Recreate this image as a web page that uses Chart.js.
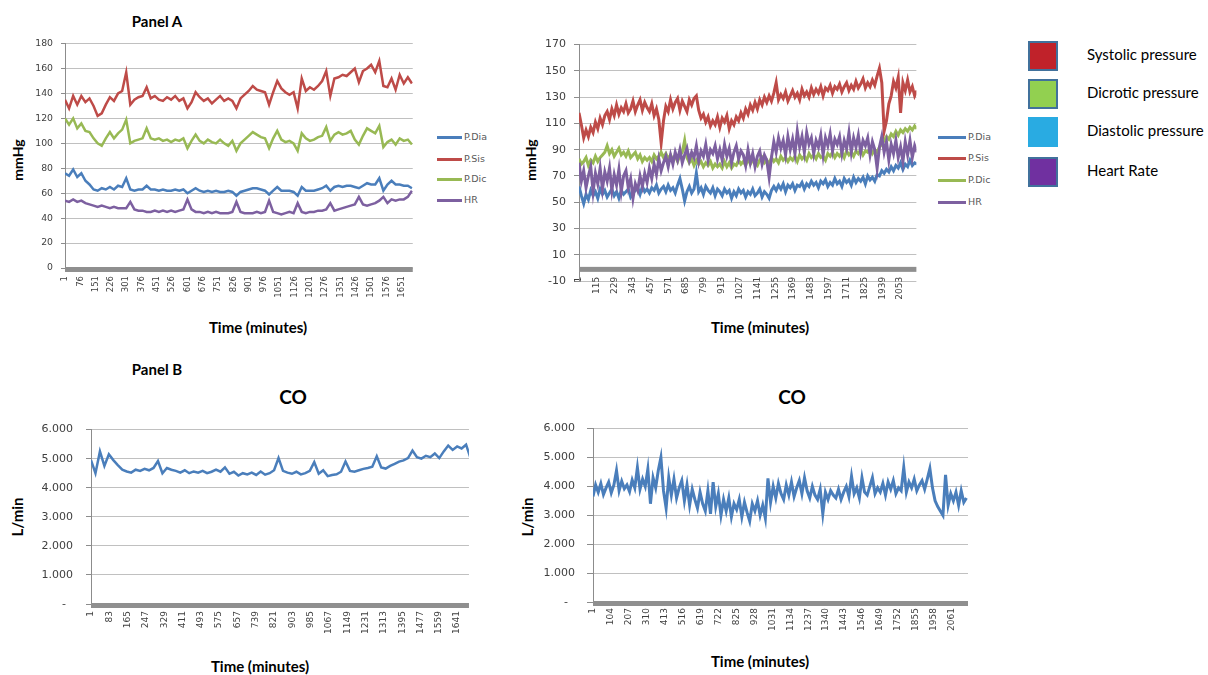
<!DOCTYPE html>
<html>
<head>
<meta charset="utf-8">
<script src="https://cdn.jsdelivr.net/npm/chart.js@4.4.0/dist/chart.umd.min.js"></script>
<style>
  html, body { margin: 0; padding: 0; background: #fff; }
  body { width: 1208px; height: 675px; position: relative; overflow: hidden; font-family: Lato, "Open Sans", sans-serif; }
  canvas { position: absolute; }
  .txt { position: absolute; white-space: nowrap; transform: translate(-50%, -50%); color: #000; font-weight: 700; }
  .rot { transform: translate(-50%, -50%) rotate(-90deg); }
  .lg { position: absolute; font: 9.5px "DejaVu Sans", sans-serif; color: #595959; white-space: nowrap; line-height: 12px; transform: translateY(-50%); }
  .lg i { display: inline-block; height: 3px; vertical-align: middle; margin-right: 2px; }
  .key { position: absolute; left: 1028px; width: 26px; height: 26px; border: 2px solid #41719C; }
  .keytxt { position: absolute; left: 1087px; font: 15px Lato, sans-serif; color: #000; white-space: nowrap; transform: translateY(-50%); }
</style>
</head>
<body>
<div class="txt" style="left:157px;top:21px;font-size:15px">Panel A</div>
<div class="txt" style="left:157px;top:369px;font-size:15px">Panel B</div>
<div class="txt" style="left:293px;top:396px;font-size:19px">CO</div>
<div class="txt" style="left:792px;top:396px;font-size:19px">CO</div>
<div class="txt rot" style="left:17px;top:160px;font-size:14px">mmHg</div>
<div class="txt rot" style="left:530px;top:160px;font-size:14px">mmHg</div>
<div class="txt rot" style="left:17px;top:517px;font-size:15px">L/min</div>
<div class="txt rot" style="left:527px;top:517px;font-size:15px">L/min</div>
<div class="txt" style="left:258px;top:327px;font-size:15px">Time (minutes)</div>
<div class="txt" style="left:760px;top:327px;font-size:15px">Time (minutes)</div>
<div class="txt" style="left:260px;top:666px;font-size:15px">Time (minutes)</div>
<div class="txt" style="left:760px;top:661px;font-size:15px">Time (minutes)</div>

<canvas id="chartTL" width="420" height="280" style="left:0;top:30px"></canvas>
<canvas id="chartTR" width="400" height="280" style="left:520px;top:30px"></canvas>
<canvas id="chartBL" width="455" height="230" style="left:20px;top:410px"></canvas>
<canvas id="chartBR" width="450" height="230" style="left:520px;top:410px"></canvas>

<script>
// series
const seriesNames = ['P.Dia', 'P.Sis', 'P.Dic', 'HR'];
const seriesColors = ['#4A7EBB', '#BE4B48', '#98B954', '#7D60A0'];
const coColor = '#4A7EBB';

// big key on the right
const keyNames = ['Systolic pressure', 'Dicrotic pressure', 'Diastolic pressure', 'Heart Rate'];
const keyColors = ['#C0222A', '#92D050', '#29ABE2', '#7030A0'];

// minutes between two readings
const stepTL = 20, stepTR = 15, stepBL = 20, stepBR = 15;

// tick labels
const xTicksTL = [1, 76, 151, 226, 301, 376, 451, 526, 601, 676, 751, 826, 901, 976, 1051, 1126, 1201, 1276, 1351, 1426, 1501, 1576, 1651];
const xTicksTR = [1, 115, 229, 343, 457, 571, 685, 799, 913, 1027, 1141, 1255, 1369, 1483, 1597, 1711, 1825, 1939, 2053];
const xTicksBL = [1, 83, 165, 247, 329, 411, 493, 575, 657, 739, 821, 903, 985, 1067, 1149, 1231, 1313, 1395, 1477, 1559, 1641];
const xTicksBR = [1, 104, 207, 310, 413, 516, 619, 722, 825, 928, 1031, 1134, 1237, 1340, 1443, 1546, 1649, 1752, 1855, 1958, 2061];
const yTicksTL = [0, 20, 40, 60, 80, 100, 120, 140, 160, 180];
const yTicksTR = [-10, 10, 30, 50, 70, 90, 110, 130, 150, 170];
const yTicksCO = [0, 1, 2, 3, 4, 5, 6];

// Panel A, left chart (mmHg)
const tlDia = [76,74,79,73,76,70,67,63,62,64, 63,65,63,66,65,72,63,62,63,63, 66,63,63,62,63,62,62,63,62,63,
  60,62,64,62,61,62,61,62,61,61, 62,61,58,61,62,63,64,64,63,62, 59,62,65,62,62,62,61,58,65,62,
  62,62,63,64,66,62,65,66,65,66, 66,65,64,66,68,67,67,72,62,67, 70,67,67,66,66,64];
const tlSis = [135,128,138,131,138,133,136,130,122,124, 131,137,134,140,142,157,131,135,137,138, 145,136,138,135,134,137,135,138,134,136,
  128,133,141,137,134,136,132,135,138,134, 136,134,128,136,139,142,146,143,142,141, 131,141,150,144,141,139,141,128,152,142,
  145,143,146,150,158,138,152,153,155,154, 157,160,149,158,160,163,157,166,146,145, 152,143,155,148,153,148];
const tlDic = [120,115,120,112,116,110,109,104,100,98, 104,109,104,108,111,119,100,102,103,104, 112,104,103,104,102,103,101,103,102,104,
  96,102,107,102,100,103,101,100,103,100, 98,102,94,100,103,106,109,107,105,104, 96,104,110,103,101,102,100,94,108,104,
  102,103,105,106,113,102,107,109,107,108, 110,103,99,106,112,110,108,114,97,101, 103,99,104,102,103,99];
const tlHr = [54,53,55,53,54,52,51,50,49,50, 49,48,49,48,48,48,53,47,46,46, 45,45,46,45,46,45,46,45,46,47,
  55,47,45,45,44,45,44,45,44,44, 44,45,53,45,44,44,44,45,44,45, 54,45,44,43,44,45,44,52,45,44,
  45,45,46,46,47,52,46,47,48,49, 50,51,57,51,50,51,52,54,57,52, 55,54,55,55,57,62];

// Panel A, right chart (mmHg)
const trDia = [62,55,49,56,52,59,55,58,53,60, 56,59,54,57,60,55,58,53,59,56, 58,60,54,57,59,61,56,62,58,60,
  57,61,59,63,57,60,62,58,63,59, 61,57,63,68,60,51,58,62,57,60, 72,58,61,56,62,59,57,61,55,60,
  58,55,60,57,59,53,58,55,60,57, 59,54,58,56,60,55,57,60,54,58, 56,53,59,62,59,63,60,64,58,63,
  61,64,59,63,62,65,60,64,62,66, 63,65,61,66,64,67,62,65,63,68, 64,66,62,68,65,67,63,69,65,68,
  66,69,64,70,67,69,66,71,70,74, 72,75,73,77,74,78,76,80,75,79, 77,82,78,80,79];
const trSis = [118,109,99,105,100,107,103,111,106,114, 109,116,119,113,121,116,124,117,122,119, 125,118,121,127,119,124,128,120,126,122,
  119,125,116,121,113,95,112,123,119,128, 121,126,129,120,127,123,119,128,124,129, 131,120,114,117,111,115,108,112,109,115,
  107,114,111,116,106,112,109,115,112,118, 114,121,117,124,120,126,121,128,124,130, 126,131,127,133,141,128,132,129,134,127,
  131,135,130,133,128,136,131,134,130,137, 132,136,133,138,131,137,135,139,133,138, 136,140,134,138,141,135,139,136,142,137,
  140,144,137,141,138,143,139,146,152,141, 104,112,125,131,142,137,145,118,141,135, 143,134,138,131,135];
const trDic = [83,79,81,84,78,82,80,85,81,84, 86,88,93,87,90,85,88,91,86,88, 85,89,84,86,88,83,86,81,84,82,
  84,81,86,83,85,88,84,87,83,86, 82,85,81,86,88,97,84,80,83,78, 82,79,81,77,80,78,81,76,79,77,
  79,76,81,77,80,76,79,78,82,79, 81,78,83,79,82,80,78,82,84,80, 82,79,84,81,83,80,85,82,84,81,
  84,82,85,81,86,83,85,82,87,84, 86,83,87,84,85,82,87,85,88,84, 87,85,88,84,89,86,88,85,89,87,
  90,86,89,88,91,87,90,88,92,94, 97,100,98,102,100,104,101,105,103,106, 104,107,105,108,106];
const trHr = [80,66,74,61,70,77,58,72,64,76, 60,73,66,76,59,71,63,75,58,70, 74,61,68,53,64,59,70,62,72,65,
  76,68,79,71,83,74,80,85,77,86, 79,88,82,90,80,86,91,82,88,84, 93,81,89,85,94,82,90,87,93,83,
  90,82,94,85,91,80,88,93,83,89, 86,78,90,80,87,77,85,89,79,86, 82,69,84,96,88,99,91,97,86,100,
  90,98,87,104,92,100,88,103,94,99, 87,97,92,101,86,99,93,102,89,98, 94,100,87,97,91,103,88,99,92,101,
  88,97,93,99,86,96,90,76,92,100, 88,96,82,94,87,97,84,92,81,96, 86,97,84,93,88];

// Panel B (L/min)
const blCo = [4.95,4.50,5.25,4.75,5.15,4.95,4.78,4.62,4.56,4.52, 4.62,4.58,4.65,4.60,4.68,4.92,4.50,4.68,4.62,4.58,
  4.52,4.60,4.50,4.56,4.52,4.58,4.50,4.55,4.62,4.55, 4.70,4.48,4.55,4.42,4.50,4.46,4.52,4.44,4.56,4.45,
  4.50,4.60,5.02,4.58,4.52,4.48,4.55,4.46,4.50,4.58, 4.88,4.48,4.60,4.40,4.44,4.46,4.55,4.90,4.58,4.55,
  4.60,4.65,4.68,4.72,5.08,4.70,4.66,4.75,4.82,4.90, 4.94,5.02,5.28,5.05,5.00,5.10,5.05,5.18,5.02,5.25,
  5.45,5.30,5.42,5.35,5.48,5.02];
const brCo = [3.65,4.05,3.80,4.10,3.72,3.95,4.15,3.78,4.05,4.55, 3.85,4.18,3.92,4.05,3.82,4.22,3.95,4.65,3.90,4.25,
  4.00,4.60,3.40,4.30,3.95,4.55,5.00,3.85,3.25,4.30, 3.70,4.25,3.60,3.95,4.20,3.50,4.05,3.35,3.90,3.55,
  3.25,3.80,3.40,3.15,3.85,3.05,4.15,3.30,3.75,3.00, 3.55,3.15,3.60,2.95,3.40,3.20,3.55,2.95,3.45,3.10,
  2.80,3.40,3.15,3.50,3.00,3.35,2.90,4.28,3.45,4.00, 3.60,4.10,3.75,3.55,4.05,3.70,4.15,3.65,3.95,4.20,
  3.75,4.30,3.85,3.60,4.00,3.70,3.55,3.90,3.05,3.80, 3.55,3.85,3.70,3.60,3.90,3.55,3.80,4.00,3.65,4.35,
  3.75,3.95,3.60,4.30,3.80,3.70,4.00,4.30,3.75,3.95, 3.80,4.10,3.70,4.15,3.90,4.20,3.75,3.95,3.85,4.65,
  3.80,4.15,3.95,4.25,3.85,4.05,4.20,3.90,4.25,4.62, 3.95,3.50,3.30,3.15,3.00,4.40,3.35,3.75,3.50,3.80,
  3.35,3.85,3.45,3.60];

// thick grey band along value 0, like the Excel axis
const zeroBand = {
  id: 'zeroBand',
  beforeDatasetsDraw(chart) {
    const { ctx, chartArea, scales } = chart;
    const y0 = scales.y.getPixelForValue(0);
    ctx.save();
    ctx.fillStyle = '#8f8f8f';
    ctx.fillRect(chartArea.left, y0 - 1, chartArea.right - chartArea.left, 5);
    ctx.restore();
  }
};

function lineChart(id, o) {
  return new Chart(document.getElementById(id), {
    type: 'line',
    data: {
      datasets: o.series.map((s, k) => ({
        label: s.name,
        data: s.values.map((v, i) => ({ x: 1 + i * o.step, y: v })),
        borderColor: s.color,
        borderWidth: o.lineWidth,
        pointRadius: 0,
        tension: 0,
        order: o.series.length - k   // HR drawn on top
      }))
    },
    options: {
      responsive: false,
      animation: false,
      events: [],
      layout: { padding: { top: o.padTop, right: 2, left: 0, bottom: o.padBottom || 0 } },
      plugins: { legend: { display: false }, tooltip: { enabled: false } },
      scales: {
        x: {
          type: 'linear', min: 1, max: o.xMax,
          position: o.xAtZero ? { y: 0 } : 'bottom',
          afterBuildTicks: sc => { sc.ticks = o.xTicks.map(v => ({ value: v })); },
          afterFit: sc => { if (!o.xAtZero) sc.height = o.xHeight; },
          grid: { display: false, drawTicks: false },
          border: { display: false },
          ticks: {
            autoSkip: false, minRotation: 90, maxRotation: 90, padding: o.xPad,
            color: '#404040', font: { family: 'DejaVu Sans', size: o.xFont },
            callback: v => String(v)
          }
        },
        y: {
          min: o.yTicks[0], max: o.yTicks[o.yTicks.length - 1],
          afterBuildTicks: sc => { sc.ticks = o.yTicks.map(v => ({ value: v })); },
          afterFit: sc => { sc.width = o.yWidth; },
          grid: { color: '#c0c0c0', lineWidth: 1, tickLength: o.yTickLen, tickColor: '#8c8c8c' },
          border: { display: true, color: '#8c8c8c', width: 1 },
          ticks: {
            padding: o.yPad, color: '#404040', font: { family: 'DejaVu Sans', size: o.yFont },
            callback: o.yFormat || (v => String(v))
          }
        }
      }
    },
    plugins: [zeroBand]
  });
}

const pressure = vals => vals.map((v, k) => ({ name: seriesNames[k], color: seriesColors[k], values: v }));
const coLabel = v => v === 0 ? '-  ' : v.toFixed(3);

lineChart('chartTL', {
  series: pressure([tlDia, tlSis, tlDic, tlHr]), step: stepTL, xMax: 1705, xTicks: xTicksTL, yTicks: yTicksTL,
  padTop: 13, xHeight: 42, yWidth: 65, xPad: 8, xFont: 8.5, yFont: 9.3, yPad: 8, yTickLen: 4, lineWidth: 2.5
});
lineChart('chartTR', {
  series: pressure([trDia, trSis, trDic, trHr]), step: stepTR, xMax: 2157, xTicks: xTicksTR, yTicks: yTicksTR,
  padTop: 14, padBottom: 29, xAtZero: true, yWidth: 59, xPad: 9, xFont: 9, yFont: 11, yPad: 8, yTickLen: 5, lineWidth: 3
});
lineChart('chartBL', {
  series: [{ name: 'CO', color: coColor, values: blCo }], step: stepBL, xMax: 1694, xTicks: xTicksBL, yTicks: yTicksCO,
  padTop: 15, xHeight: 36, yWidth: 71, xPad: 7, xFont: 9, yFont: 11, yPad: 13, yTickLen: 5, yFormat: coLabel, lineWidth: 2.5
});
lineChart('chartBR', {
  series: [{ name: 'CO', color: coColor, values: brCo }], step: stepBR, xMax: 2155, xTicks: xTicksBR, yTicks: yTicksCO,
  padTop: 15, xHeight: 38, yWidth: 73, xPad: 6, xFont: 9, yFont: 11, yPad: 12, yTickLen: 6, yFormat: coLabel, lineWidth: 3
});

// small series legends next to the pressure charts
function smallLegend(left, ys, lineLen) {
  seriesNames.forEach((name, k) => {
    const d = document.createElement('div');
    d.className = 'lg';
    d.style.left = left + 'px';
    d.style.top = ys[k] + 'px';
    d.innerHTML = '<i style="width:' + lineLen + 'px;background:' + seriesColors[k] + '"></i>' + name;
    document.body.appendChild(d);
  });
}
smallLegend(437, [137, 159, 179, 200], 25);
smallLegend(938, [137, 158, 180, 202], 28);

// colour key
const keyTops = [41, 79, 117, 157];
keyNames.forEach((name, k) => {
  const sq = document.createElement('div');
  sq.className = 'key';
  sq.style.top = keyTops[k] + 'px';
  sq.style.background = keyColors[k];
  if (k === 2) sq.style.borderColor = keyColors[k];
  document.body.appendChild(sq);
  const t = document.createElement('div');
  t.className = 'keytxt';
  t.style.top = (keyTops[k] + 13) + 'px';
  t.textContent = name;
  document.body.appendChild(t);
});
</script>
</body>
</html>
